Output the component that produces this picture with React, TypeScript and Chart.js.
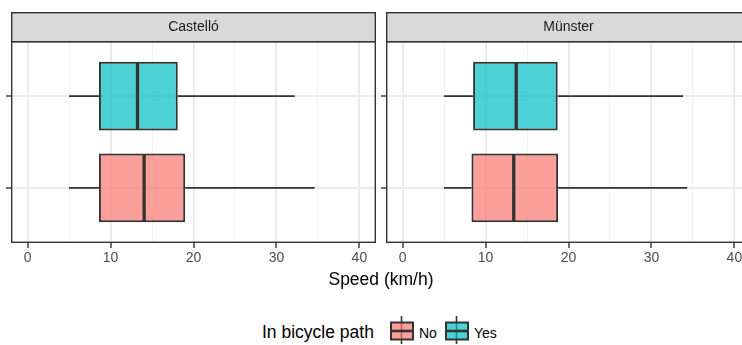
import React, { useEffect, useRef } from "react";
import { Chart, registerables } from "chart.js";

Chart.register(...registerables);

// ---- data ----
const groups = ["No", "Yes"];
const cityNames = ["Castelló", "Münster"];
const xTickValues = [0, 5, 10, 15, 20, 25, 30, 35, 40];

// index 0 = "No", index 1 = "Yes"
const castelloLow = [5.0, 5.0];
const castelloQ1 = [8.6, 8.6];
const castelloMedian = [14.05, 13.25];
const castelloQ3 = [19.0, 18.1];
const castelloHigh = [34.6, 32.2];

const munsterLow = [5.0, 5.0];
const munsterQ1 = [8.3, 8.5];
const munsterMedian = [13.4, 13.7];
const munsterQ3 = [18.75, 18.7];
const munsterHigh = [34.3, 33.8];

const groupFills = ["rgba(248,118,109,0.7)", "rgba(0,191,196,0.7)"];

const FONT = '"Liberation Sans", Arial, Helvetica, sans-serif';
const DARK = "#333333";

const boxPlugin = {
  id: "boxExtras",
  beforeDatasetsDraw(chart: any, _args: any, opts: any) {
    const ctx = chart.ctx;
    const xs = chart.scales.x;
    const ys = chart.scales.y;
    ctx.save();
    ctx.strokeStyle = DARK;
    ctx.lineWidth = 1.6;
    opts.low.forEach((lo: number, i: number) => {
      const y = ys.getPixelForValue(i + 1);
      ctx.beginPath();
      ctx.moveTo(xs.getPixelForValue(lo), y);
      ctx.lineTo(xs.getPixelForValue(opts.q1[i]), y);
      ctx.moveTo(xs.getPixelForValue(opts.q3[i]), y);
      ctx.lineTo(xs.getPixelForValue(opts.high[i]), y);
      ctx.stroke();
    });
    ctx.restore();
  },
  afterDatasetsDraw(chart: any, _args: any, opts: any) {
    const ctx = chart.ctx;
    const xs = chart.scales.x;
    const ys = chart.scales.y;
    const meta = chart.getDatasetMeta(0);
    ctx.save();
    ctx.strokeStyle = DARK;
    ctx.lineWidth = 3.3;
    opts.med.forEach((m: number, i: number) => {
      const el = meta.data[i];
      const y = ys.getPixelForValue(i + 1);
      const half = el.height / 2 - 1;
      const x = xs.getPixelForValue(m);
      ctx.beginPath();
      ctx.moveTo(x, y - half);
      ctx.lineTo(x, y + half);
      ctx.stroke();
    });
    ctx.restore();
  },
  afterDraw(chart: any, _args: any, opts: any) {
    const ctx = chart.ctx;
    const a = chart.chartArea;
    ctx.save();
    const stripTop = 12;
    ctx.fillStyle = "#d9d9d9";
    ctx.fillRect(a.left, stripTop, a.right - a.left, a.top - stripTop);
    ctx.strokeStyle = DARK;
    ctx.lineWidth = 1.4;
    ctx.strokeRect(a.left + 0.7, stripTop + 0.7, a.right - a.left - 1.4, a.top - stripTop);
    ctx.fillStyle = "#1a1a1a";
    ctx.font = `14px ${FONT}`;
    ctx.textAlign = "center";
    ctx.textBaseline = "middle";
    ctx.fillText(opts.title, (a.left + a.right) / 2, 27.5);
    ctx.strokeRect(a.left + 0.7, a.top + 0.7, a.right - a.left - 1.4, a.bottom - a.top - 1.4);
    ctx.restore();
  },
};

type PanelProps = {
  title: string;
  low: number[];
  q1: number[];
  med: number[];
  q3: number[];
  high: number[];
  left: number;
};

function BoxPanel({ title, low, q1, med, q3, high, left }: PanelProps) {
  const ref = useRef<HTMLCanvasElement | null>(null);
  useEffect(() => {
    if (!ref.current) return;
    const chart = new Chart(ref.current, {
      type: "bar",
      data: {
        datasets: [
          {
            label: title,
            data: groups.map((_g, i) => ({ y: i + 1, x: [q1[i], q3[i]] })) as any,
            backgroundColor: groupFills,
            borderColor: DARK,
            borderWidth: 2,
            borderSkipped: false,
            grouped: false,
            categoryPercentage: 1,
            barPercentage: 0.75,
          } as any,
        ],
      },
      options: {
        responsive: false,
        animation: false,
        events: [],
        indexAxis: "y",
        layout: { padding: { top: 41, left: 6, right: 4, bottom: 0 } },
        plugins: {
          legend: { display: false },
          tooltip: { enabled: false },
          boxExtras: { title, low, med, high, q1, q3 },
        } as any,
        scales: {
          x: {
            type: "linear",
            min: -2,
            max: 42,
            offset: false,
            afterBuildTicks: (s: any) => {
              s.ticks = xTickValues.map((v) => ({ value: v }));
            },
            afterFit: (s: any) => {
              s.height = 27;
            },
            border: { display: false },
            grid: {
              offset: false,
              color: (c: any) => (c.tick && c.tick.value % 10 === 0 ? "#ebebeb" : "#f1f1f1"),
              lineWidth: (c: any) => (c.tick && c.tick.value % 10 === 0 ? 2 : 1),
              tickColor: (c: any) => (c.tick && c.tick.value % 10 === 0 ? DARK : "rgba(0,0,0,0)"),
              tickWidth: 1.4,
              tickLength: 5,
              drawTicks: true,
            },
            ticks: {
              autoSkip: false,
              maxRotation: 0,
              padding: 2,
              color: "#4d4d4d",
              font: { family: FONT, size: 14 },
              callback: (v: any) => (Number(v) % 10 === 0 ? String(v) : ""),
            },
          },
          y: {
            type: "linear",
            min: 0.4,
            max: 2.6,
            offset: false,
            afterBuildTicks: (s: any) => {
              s.ticks = groups.map((_g, i) => ({ value: i + 1 }));
            },
            afterFit: (s: any) => {
              s.width = 5;
            },
            border: { display: false },
            grid: {
              offset: false,
              color: "#ebebeb",
              lineWidth: 2,
              tickColor: DARK,
              tickWidth: 1.4,
              tickLength: 5,
              drawTicks: true,
            },
            ticks: { display: false },
          },
        },
      } as any,
      plugins: [boxPlugin],
    });
    return () => chart.destroy();
  }, []);
  return (
    <canvas
      ref={ref}
      width={380}
      height={270}
      style={{ position: "absolute", left, top: 0, width: 380, height: 270, display: "block" }}
    />
  );
}

function LegendKey({ fill, left }: { fill: string; left: number }) {
  return (
    <svg width={24} height={30} style={{ position: "absolute", left, top: 315 }}>
      <line x1={11.5} y1={1} x2={11.5} y2={29} stroke={DARK} strokeWidth={1.6} />
      <rect x={1} y={7.5} width={22} height={17} fill={fill} stroke={DARK} strokeWidth={2} />
      <line x1={1} y1={16} x2={23} y2={16} stroke={DARK} strokeWidth={2.6} />
    </svg>
  );
}

const textStyle = (left: number, top: number, size: number, extra: any = {}) => ({
  position: "absolute" as const,
  left,
  top,
  fontSize: size,
  lineHeight: `${size}px`,
  color: "#000",
  whiteSpace: "nowrap" as const,
  ...extra,
});

export default function App() {
  return (
    <div
      style={{
        position: "absolute",
        left: 0,
        top: 0,
        width: 742,
        height: 345,
        overflow: "hidden",
        background: "#ffffff",
        fontFamily: FONT,
      }}
    >
      <BoxPanel title={cityNames[0]} low={castelloLow} q1={castelloQ1} med={castelloMedian} q3={castelloQ3} high={castelloHigh} left={0} />
      <BoxPanel title={cityNames[1]} low={munsterLow} q1={munsterQ1} med={munsterMedian} q3={munsterQ3} high={munsterHigh} left={375} />
      <div style={textStyle(11, 271, 17.5, { width: 740, textAlign: "center" })}>Speed (km/h)</div>
      <div style={textStyle(262, 323.7, 17.5)}>In bicycle path</div>
      <LegendKey fill={groupFills[0]} left={390} />
      <div style={textStyle(419, 326, 14)}>{groups[0]}</div>
      <LegendKey fill={groupFills[1]} left={445} />
      <div style={textStyle(474, 326, 14)}>{groups[1]}</div>
    </div>
  );
}
